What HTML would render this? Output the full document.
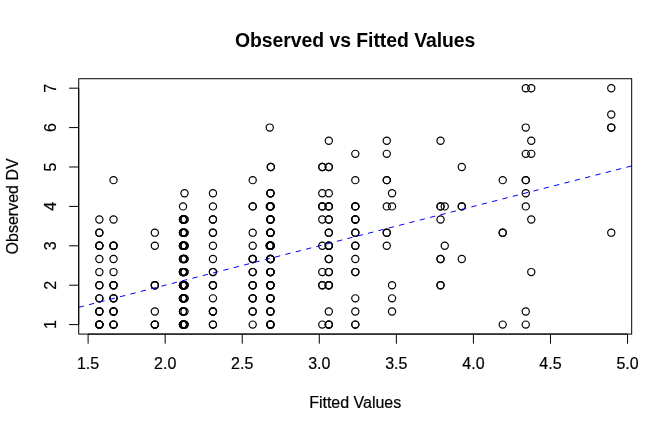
<!DOCTYPE html>
<html><head><meta charset="utf-8"><title>Observed vs Fitted Values</title>
<style>
html,body{margin:0;padding:0;background:#fff;}
svg{display:block;font-family:"Liberation Sans",Arial,Helvetica,sans-serif;}
</style></head><body>
<svg width="672" height="432" viewBox="0 0 672 432">
<rect width="672" height="432" fill="#fff"/>

<g fill="none" stroke="#000" stroke-width="1.2">
<circle cx="99.35" cy="324.62" r="3.6"/>
<circle cx="99.35" cy="324.62" r="3.6"/>
<circle cx="99.35" cy="324.62" r="3.6"/>
<circle cx="99.35" cy="324.62" r="3.6"/>
<circle cx="99.35" cy="324.62" r="3.6"/>
<circle cx="99.35" cy="311.49" r="3.6"/>
<circle cx="99.35" cy="311.49" r="3.6"/>
<circle cx="99.35" cy="311.49" r="3.6"/>
<circle cx="99.35" cy="298.35" r="3.6"/>
<circle cx="99.35" cy="298.35" r="3.6"/>
<circle cx="99.35" cy="285.21" r="3.6"/>
<circle cx="99.35" cy="285.21" r="3.6"/>
<circle cx="99.35" cy="272.08" r="3.6"/>
<circle cx="99.35" cy="258.94" r="3.6"/>
<circle cx="99.35" cy="245.81" r="3.6"/>
<circle cx="99.35" cy="245.81" r="3.6"/>
<circle cx="99.35" cy="245.81" r="3.6"/>
<circle cx="99.35" cy="232.67" r="3.6"/>
<circle cx="99.35" cy="232.67" r="3.6"/>
<circle cx="99.35" cy="219.54" r="3.6"/>
<circle cx="113.53" cy="324.62" r="3.6"/>
<circle cx="113.53" cy="324.62" r="3.6"/>
<circle cx="113.53" cy="324.62" r="3.6"/>
<circle cx="113.53" cy="311.49" r="3.6"/>
<circle cx="113.53" cy="311.49" r="3.6"/>
<circle cx="113.53" cy="311.49" r="3.6"/>
<circle cx="113.53" cy="298.35" r="3.6"/>
<circle cx="113.53" cy="298.35" r="3.6"/>
<circle cx="113.53" cy="298.35" r="3.6"/>
<circle cx="113.53" cy="285.21" r="3.6"/>
<circle cx="113.53" cy="285.21" r="3.6"/>
<circle cx="113.53" cy="285.21" r="3.6"/>
<circle cx="113.53" cy="272.08" r="3.6"/>
<circle cx="113.53" cy="258.94" r="3.6"/>
<circle cx="113.53" cy="245.81" r="3.6"/>
<circle cx="113.53" cy="245.81" r="3.6"/>
<circle cx="113.53" cy="245.81" r="3.6"/>
<circle cx="113.53" cy="219.54" r="3.6"/>
<circle cx="113.53" cy="180.13" r="3.6"/>
<circle cx="154.84" cy="324.62" r="3.6"/>
<circle cx="154.84" cy="324.62" r="3.6"/>
<circle cx="154.84" cy="324.62" r="3.6"/>
<circle cx="154.84" cy="311.49" r="3.6"/>
<circle cx="154.84" cy="285.21" r="3.6"/>
<circle cx="154.84" cy="285.21" r="3.6"/>
<circle cx="154.84" cy="285.21" r="3.6"/>
<circle cx="154.84" cy="245.81" r="3.6"/>
<circle cx="154.84" cy="232.67" r="3.6"/>
<circle cx="183.01" cy="324.62" r="3.6"/>
<circle cx="183.01" cy="324.62" r="3.6"/>
<circle cx="183.01" cy="324.62" r="3.6"/>
<circle cx="183.01" cy="324.62" r="3.6"/>
<circle cx="183.01" cy="324.62" r="3.6"/>
<circle cx="183.01" cy="311.49" r="3.6"/>
<circle cx="183.01" cy="311.49" r="3.6"/>
<circle cx="183.01" cy="311.49" r="3.6"/>
<circle cx="183.01" cy="298.35" r="3.6"/>
<circle cx="183.01" cy="298.35" r="3.6"/>
<circle cx="183.01" cy="298.35" r="3.6"/>
<circle cx="183.01" cy="298.35" r="3.6"/>
<circle cx="183.01" cy="298.35" r="3.6"/>
<circle cx="183.01" cy="285.21" r="3.6"/>
<circle cx="183.01" cy="285.21" r="3.6"/>
<circle cx="183.01" cy="285.21" r="3.6"/>
<circle cx="183.01" cy="285.21" r="3.6"/>
<circle cx="183.01" cy="285.21" r="3.6"/>
<circle cx="183.01" cy="272.08" r="3.6"/>
<circle cx="183.01" cy="272.08" r="3.6"/>
<circle cx="183.01" cy="272.08" r="3.6"/>
<circle cx="183.01" cy="272.08" r="3.6"/>
<circle cx="183.01" cy="272.08" r="3.6"/>
<circle cx="183.01" cy="258.94" r="3.6"/>
<circle cx="183.01" cy="258.94" r="3.6"/>
<circle cx="183.01" cy="258.94" r="3.6"/>
<circle cx="183.01" cy="245.81" r="3.6"/>
<circle cx="183.01" cy="245.81" r="3.6"/>
<circle cx="183.01" cy="245.81" r="3.6"/>
<circle cx="183.01" cy="245.81" r="3.6"/>
<circle cx="183.01" cy="245.81" r="3.6"/>
<circle cx="183.01" cy="232.67" r="3.6"/>
<circle cx="183.01" cy="232.67" r="3.6"/>
<circle cx="183.01" cy="232.67" r="3.6"/>
<circle cx="183.01" cy="219.54" r="3.6"/>
<circle cx="183.01" cy="219.54" r="3.6"/>
<circle cx="183.01" cy="219.54" r="3.6"/>
<circle cx="183.01" cy="206.40" r="3.6"/>
<circle cx="184.51" cy="324.62" r="3.6"/>
<circle cx="184.51" cy="324.62" r="3.6"/>
<circle cx="184.51" cy="324.62" r="3.6"/>
<circle cx="184.51" cy="311.49" r="3.6"/>
<circle cx="184.51" cy="298.35" r="3.6"/>
<circle cx="184.51" cy="298.35" r="3.6"/>
<circle cx="184.51" cy="285.21" r="3.6"/>
<circle cx="184.51" cy="285.21" r="3.6"/>
<circle cx="184.51" cy="285.21" r="3.6"/>
<circle cx="184.51" cy="272.08" r="3.6"/>
<circle cx="184.51" cy="272.08" r="3.6"/>
<circle cx="184.51" cy="258.94" r="3.6"/>
<circle cx="184.51" cy="258.94" r="3.6"/>
<circle cx="184.51" cy="245.81" r="3.6"/>
<circle cx="184.51" cy="245.81" r="3.6"/>
<circle cx="184.51" cy="245.81" r="3.6"/>
<circle cx="184.51" cy="232.67" r="3.6"/>
<circle cx="184.51" cy="232.67" r="3.6"/>
<circle cx="184.51" cy="219.54" r="3.6"/>
<circle cx="184.51" cy="219.54" r="3.6"/>
<circle cx="184.51" cy="193.26" r="3.6"/>
<circle cx="212.94" cy="324.62" r="3.6"/>
<circle cx="212.94" cy="324.62" r="3.6"/>
<circle cx="212.94" cy="311.49" r="3.6"/>
<circle cx="212.94" cy="311.49" r="3.6"/>
<circle cx="212.94" cy="311.49" r="3.6"/>
<circle cx="212.94" cy="298.35" r="3.6"/>
<circle cx="212.94" cy="285.21" r="3.6"/>
<circle cx="212.94" cy="285.21" r="3.6"/>
<circle cx="212.94" cy="285.21" r="3.6"/>
<circle cx="212.94" cy="272.08" r="3.6"/>
<circle cx="212.94" cy="272.08" r="3.6"/>
<circle cx="212.94" cy="258.94" r="3.6"/>
<circle cx="212.94" cy="245.81" r="3.6"/>
<circle cx="212.94" cy="232.67" r="3.6"/>
<circle cx="212.94" cy="232.67" r="3.6"/>
<circle cx="212.94" cy="219.54" r="3.6"/>
<circle cx="212.94" cy="219.54" r="3.6"/>
<circle cx="212.94" cy="206.40" r="3.6"/>
<circle cx="212.94" cy="193.26" r="3.6"/>
<circle cx="252.71" cy="324.62" r="3.6"/>
<circle cx="252.71" cy="311.49" r="3.6"/>
<circle cx="252.71" cy="311.49" r="3.6"/>
<circle cx="252.71" cy="298.35" r="3.6"/>
<circle cx="252.71" cy="298.35" r="3.6"/>
<circle cx="252.71" cy="298.35" r="3.6"/>
<circle cx="252.71" cy="285.21" r="3.6"/>
<circle cx="252.71" cy="285.21" r="3.6"/>
<circle cx="252.71" cy="285.21" r="3.6"/>
<circle cx="252.71" cy="272.08" r="3.6"/>
<circle cx="252.71" cy="272.08" r="3.6"/>
<circle cx="252.71" cy="258.94" r="3.6"/>
<circle cx="252.71" cy="258.94" r="3.6"/>
<circle cx="252.71" cy="258.94" r="3.6"/>
<circle cx="252.71" cy="245.81" r="3.6"/>
<circle cx="252.71" cy="232.67" r="3.6"/>
<circle cx="252.71" cy="206.40" r="3.6"/>
<circle cx="252.71" cy="206.40" r="3.6"/>
<circle cx="252.71" cy="180.13" r="3.6"/>
<circle cx="270.43" cy="324.62" r="3.6"/>
<circle cx="270.43" cy="324.62" r="3.6"/>
<circle cx="270.43" cy="324.62" r="3.6"/>
<circle cx="270.43" cy="324.62" r="3.6"/>
<circle cx="270.43" cy="324.62" r="3.6"/>
<circle cx="270.43" cy="311.49" r="3.6"/>
<circle cx="270.43" cy="311.49" r="3.6"/>
<circle cx="270.43" cy="311.49" r="3.6"/>
<circle cx="270.43" cy="298.35" r="3.6"/>
<circle cx="270.43" cy="298.35" r="3.6"/>
<circle cx="270.43" cy="298.35" r="3.6"/>
<circle cx="270.43" cy="298.35" r="3.6"/>
<circle cx="270.43" cy="298.35" r="3.6"/>
<circle cx="270.43" cy="285.21" r="3.6"/>
<circle cx="270.43" cy="285.21" r="3.6"/>
<circle cx="270.43" cy="285.21" r="3.6"/>
<circle cx="270.43" cy="285.21" r="3.6"/>
<circle cx="270.43" cy="285.21" r="3.6"/>
<circle cx="270.43" cy="272.08" r="3.6"/>
<circle cx="270.43" cy="272.08" r="3.6"/>
<circle cx="270.43" cy="272.08" r="3.6"/>
<circle cx="270.43" cy="272.08" r="3.6"/>
<circle cx="270.43" cy="272.08" r="3.6"/>
<circle cx="270.43" cy="258.94" r="3.6"/>
<circle cx="270.43" cy="258.94" r="3.6"/>
<circle cx="270.43" cy="258.94" r="3.6"/>
<circle cx="270.43" cy="258.94" r="3.6"/>
<circle cx="270.43" cy="258.94" r="3.6"/>
<circle cx="270.43" cy="245.81" r="3.6"/>
<circle cx="270.43" cy="245.81" r="3.6"/>
<circle cx="270.43" cy="245.81" r="3.6"/>
<circle cx="270.43" cy="245.81" r="3.6"/>
<circle cx="270.43" cy="245.81" r="3.6"/>
<circle cx="270.43" cy="232.67" r="3.6"/>
<circle cx="270.43" cy="232.67" r="3.6"/>
<circle cx="270.43" cy="232.67" r="3.6"/>
<circle cx="270.43" cy="232.67" r="3.6"/>
<circle cx="270.43" cy="232.67" r="3.6"/>
<circle cx="270.43" cy="219.54" r="3.6"/>
<circle cx="270.43" cy="219.54" r="3.6"/>
<circle cx="270.43" cy="219.54" r="3.6"/>
<circle cx="270.43" cy="219.54" r="3.6"/>
<circle cx="270.43" cy="219.54" r="3.6"/>
<circle cx="270.43" cy="206.40" r="3.6"/>
<circle cx="270.43" cy="206.40" r="3.6"/>
<circle cx="270.43" cy="206.40" r="3.6"/>
<circle cx="270.43" cy="206.40" r="3.6"/>
<circle cx="270.43" cy="206.40" r="3.6"/>
<circle cx="270.43" cy="193.26" r="3.6"/>
<circle cx="270.43" cy="193.26" r="3.6"/>
<circle cx="270.43" cy="193.26" r="3.6"/>
<circle cx="269.77" cy="245.81" r="3.6"/>
<circle cx="269.77" cy="245.81" r="3.6"/>
<circle cx="269.77" cy="245.81" r="3.6"/>
<circle cx="269.77" cy="206.40" r="3.6"/>
<circle cx="269.77" cy="127.59" r="3.6"/>
<circle cx="270.82" cy="245.81" r="3.6"/>
<circle cx="270.82" cy="166.99" r="3.6"/>
<circle cx="270.82" cy="166.99" r="3.6"/>
<circle cx="322.29" cy="324.62" r="3.6"/>
<circle cx="322.29" cy="285.21" r="3.6"/>
<circle cx="322.29" cy="285.21" r="3.6"/>
<circle cx="322.29" cy="272.08" r="3.6"/>
<circle cx="322.29" cy="245.81" r="3.6"/>
<circle cx="322.29" cy="219.54" r="3.6"/>
<circle cx="322.29" cy="206.40" r="3.6"/>
<circle cx="322.29" cy="206.40" r="3.6"/>
<circle cx="322.29" cy="206.40" r="3.6"/>
<circle cx="322.29" cy="193.26" r="3.6"/>
<circle cx="322.29" cy="166.99" r="3.6"/>
<circle cx="322.29" cy="166.99" r="3.6"/>
<circle cx="328.80" cy="324.62" r="3.6"/>
<circle cx="328.80" cy="324.62" r="3.6"/>
<circle cx="328.80" cy="324.62" r="3.6"/>
<circle cx="328.80" cy="311.49" r="3.6"/>
<circle cx="328.80" cy="285.21" r="3.6"/>
<circle cx="328.80" cy="285.21" r="3.6"/>
<circle cx="328.80" cy="285.21" r="3.6"/>
<circle cx="328.80" cy="272.08" r="3.6"/>
<circle cx="328.80" cy="272.08" r="3.6"/>
<circle cx="328.80" cy="258.94" r="3.6"/>
<circle cx="328.80" cy="258.94" r="3.6"/>
<circle cx="328.80" cy="245.81" r="3.6"/>
<circle cx="328.80" cy="245.81" r="3.6"/>
<circle cx="328.80" cy="245.81" r="3.6"/>
<circle cx="328.80" cy="232.67" r="3.6"/>
<circle cx="328.80" cy="232.67" r="3.6"/>
<circle cx="328.80" cy="219.54" r="3.6"/>
<circle cx="328.80" cy="219.54" r="3.6"/>
<circle cx="328.80" cy="206.40" r="3.6"/>
<circle cx="328.80" cy="206.40" r="3.6"/>
<circle cx="328.80" cy="206.40" r="3.6"/>
<circle cx="328.80" cy="193.26" r="3.6"/>
<circle cx="328.80" cy="166.99" r="3.6"/>
<circle cx="328.80" cy="166.99" r="3.6"/>
<circle cx="328.80" cy="140.72" r="3.6"/>
<circle cx="355.31" cy="324.62" r="3.6"/>
<circle cx="355.31" cy="324.62" r="3.6"/>
<circle cx="355.31" cy="311.49" r="3.6"/>
<circle cx="355.31" cy="298.35" r="3.6"/>
<circle cx="355.31" cy="272.08" r="3.6"/>
<circle cx="355.31" cy="272.08" r="3.6"/>
<circle cx="355.31" cy="258.94" r="3.6"/>
<circle cx="355.31" cy="245.81" r="3.6"/>
<circle cx="355.31" cy="245.81" r="3.6"/>
<circle cx="355.31" cy="232.67" r="3.6"/>
<circle cx="355.31" cy="232.67" r="3.6"/>
<circle cx="355.31" cy="219.54" r="3.6"/>
<circle cx="355.31" cy="219.54" r="3.6"/>
<circle cx="355.31" cy="219.54" r="3.6"/>
<circle cx="355.31" cy="206.40" r="3.6"/>
<circle cx="355.31" cy="206.40" r="3.6"/>
<circle cx="355.31" cy="206.40" r="3.6"/>
<circle cx="355.31" cy="180.13" r="3.6"/>
<circle cx="355.31" cy="153.86" r="3.6"/>
<circle cx="386.76" cy="245.81" r="3.6"/>
<circle cx="386.76" cy="232.67" r="3.6"/>
<circle cx="386.76" cy="232.67" r="3.6"/>
<circle cx="386.76" cy="206.40" r="3.6"/>
<circle cx="386.76" cy="180.13" r="3.6"/>
<circle cx="386.76" cy="180.13" r="3.6"/>
<circle cx="386.76" cy="153.86" r="3.6"/>
<circle cx="386.76" cy="140.72" r="3.6"/>
<circle cx="392.04" cy="311.49" r="3.6"/>
<circle cx="392.04" cy="298.35" r="3.6"/>
<circle cx="392.04" cy="285.21" r="3.6"/>
<circle cx="392.04" cy="206.40" r="3.6"/>
<circle cx="392.04" cy="193.26" r="3.6"/>
<circle cx="440.52" cy="285.21" r="3.6"/>
<circle cx="440.52" cy="285.21" r="3.6"/>
<circle cx="440.52" cy="258.94" r="3.6"/>
<circle cx="440.52" cy="258.94" r="3.6"/>
<circle cx="440.52" cy="219.54" r="3.6"/>
<circle cx="440.52" cy="206.40" r="3.6"/>
<circle cx="440.52" cy="206.40" r="3.6"/>
<circle cx="440.52" cy="140.72" r="3.6"/>
<circle cx="444.75" cy="245.81" r="3.6"/>
<circle cx="444.75" cy="206.40" r="3.6"/>
<circle cx="461.78" cy="258.94" r="3.6"/>
<circle cx="461.78" cy="206.40" r="3.6"/>
<circle cx="461.78" cy="206.40" r="3.6"/>
<circle cx="461.78" cy="166.99" r="3.6"/>
<circle cx="502.70" cy="324.62" r="3.6"/>
<circle cx="502.70" cy="232.67" r="3.6"/>
<circle cx="502.70" cy="232.67" r="3.6"/>
<circle cx="502.70" cy="180.13" r="3.6"/>
<circle cx="525.77" cy="324.62" r="3.6"/>
<circle cx="525.77" cy="311.49" r="3.6"/>
<circle cx="525.77" cy="206.40" r="3.6"/>
<circle cx="525.77" cy="193.26" r="3.6"/>
<circle cx="525.77" cy="180.13" r="3.6"/>
<circle cx="525.77" cy="180.13" r="3.6"/>
<circle cx="525.77" cy="153.86" r="3.6"/>
<circle cx="525.77" cy="127.59" r="3.6"/>
<circle cx="525.77" cy="88.18" r="3.6"/>
<circle cx="531.27" cy="272.08" r="3.6"/>
<circle cx="531.27" cy="219.54" r="3.6"/>
<circle cx="531.27" cy="153.86" r="3.6"/>
<circle cx="531.27" cy="140.72" r="3.6"/>
<circle cx="531.27" cy="88.18" r="3.6"/>
<circle cx="611.26" cy="232.67" r="3.6"/>
<circle cx="611.26" cy="127.59" r="3.6"/>
<circle cx="611.26" cy="127.59" r="3.6"/>
<circle cx="611.26" cy="114.45" r="3.6"/>
<circle cx="611.26" cy="88.18" r="3.6"/>
</g>
<line x1="78.72" y1="307.32" x2="631.68" y2="165.93" stroke="#0000ff" stroke-width="1" stroke-dasharray="5.333,5.333"/>
<rect x="78.72" y="78.72" width="552.96" height="255.36" fill="none" stroke="#000" stroke-width="1"/>
<g stroke="#000" stroke-width="1" fill="none">
<line x1="88.10" y1="334.08" x2="627.54" y2="334.08"/>
<line x1="88.10" y1="334.08" x2="88.10" y2="343.68"/>
<line x1="165.17" y1="334.08" x2="165.17" y2="343.68"/>
<line x1="242.23" y1="334.08" x2="242.23" y2="343.68"/>
<line x1="319.29" y1="334.08" x2="319.29" y2="343.68"/>
<line x1="396.35" y1="334.08" x2="396.35" y2="343.68"/>
<line x1="473.41" y1="334.08" x2="473.41" y2="343.68"/>
<line x1="550.48" y1="334.08" x2="550.48" y2="343.68"/>
<line x1="627.54" y1="334.08" x2="627.54" y2="343.68"/>
<line x1="78.72" y1="324.62" x2="78.72" y2="88.18"/>
<line x1="78.72" y1="324.62" x2="69.12" y2="324.62"/>
<line x1="78.72" y1="285.21" x2="69.12" y2="285.21"/>
<line x1="78.72" y1="245.81" x2="69.12" y2="245.81"/>
<line x1="78.72" y1="206.40" x2="69.12" y2="206.40"/>
<line x1="78.72" y1="166.99" x2="69.12" y2="166.99"/>
<line x1="78.72" y1="127.59" x2="69.12" y2="127.59"/>
<line x1="78.72" y1="88.18" x2="69.12" y2="88.18"/>
</g>
<g font-size="16" fill="#000" stroke="#000" stroke-width="0.2" text-anchor="middle">
<text x="88.10" y="368.50">1.5</text>
<text x="165.17" y="368.50">2.0</text>
<text x="242.23" y="368.50">2.5</text>
<text x="319.29" y="368.50">3.0</text>
<text x="396.35" y="368.50">3.5</text>
<text x="473.41" y="368.50">4.0</text>
<text x="550.48" y="368.50">4.5</text>
<text x="627.54" y="368.50">5.0</text>
<text transform="translate(55.50,324.62) rotate(-90)">1</text>
<text transform="translate(55.50,285.21) rotate(-90)">2</text>
<text transform="translate(55.50,245.81) rotate(-90)">3</text>
<text transform="translate(55.50,206.40) rotate(-90)">4</text>
<text transform="translate(55.50,166.99) rotate(-90)">5</text>
<text transform="translate(55.50,127.59) rotate(-90)">6</text>
<text transform="translate(55.50,88.18) rotate(-90)">7</text>
<text x="355.20" y="407.70" textLength="92" lengthAdjust="spacing">Fitted Values</text>
<text transform="translate(17.50,206.40) rotate(-90)">Observed DV</text>
</g>
<text x="234.90" y="47.00" font-size="19.4" font-weight="bold" fill="#000" textLength="240.5" lengthAdjust="spacing">Observed vs Fitted Values</text>
</svg></body></html>
